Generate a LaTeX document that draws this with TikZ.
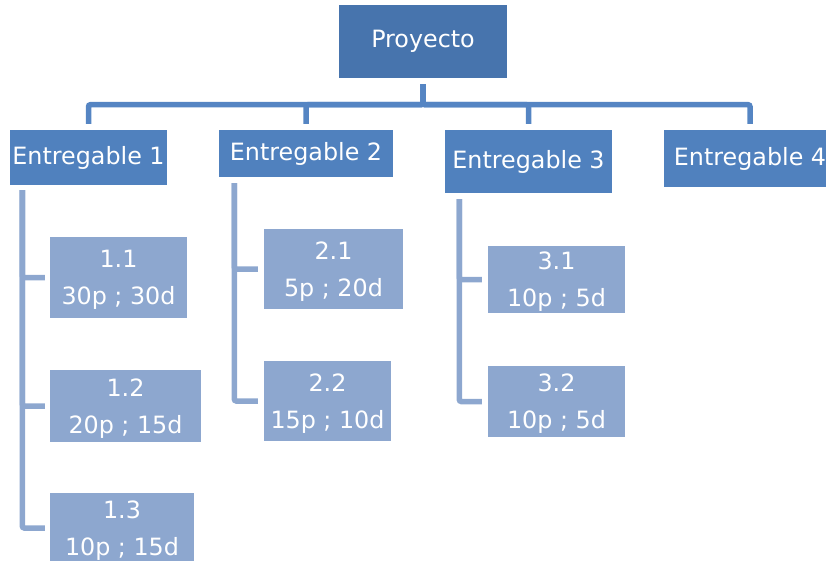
\documentclass[tikz,border=0pt]{standalone}
\usepackage{fontspec}
\setmainfont{DejaVu Sans}
\usetikzlibrary{calc}
\definecolor{projblue}{HTML}{4774AD}
\definecolor{entblue}{HTML}{5081BE}
\definecolor{taskblue}{HTML}{8DA7CF}
\definecolor{barblue}{HTML}{5585C3}
\tikzset{
	box/.style={inner sep=0pt, text=white, align=center, font=\fontsize{23.8}{37}\selectfont},
	projbox/.style={box, fill=projblue},
	entbox/.style={box, fill=entblue},
	taskbox/.style={box, fill=taskblue, text depth=0pt},
	topline/.style={draw=barblue, line width=5.5pt, rounded corners=2pt},
	subline/.style={draw=taskblue, line width=5.5pt, rounded corners=2pt}
}
\begin{document}
\begin{tikzpicture}[x=1pt, y=-1pt]
	\useasboundingbox (0,0) rectangle (826,560);
	\clip (0,0) rectangle (826,560);
	% top level
	\node[projbox, minimum width=168pt, minimum height=73pt] (proj) at (423,41.5) {Proyecto};
	\node[entbox, minimum width=157pt, minimum height=55pt] (ent1) at (88.5,157.5) {Entregable 1};
	\node[entbox, minimum width=174pt, minimum height=47pt] (ent2) at (306,153.5) {Entregable 2};
	\node[entbox, minimum width=167pt, minimum height=63pt] (ent3) at (528.5,161.5) {Entregable 3};
	\node[entbox, minimum width=172pt, minimum height=57pt] (ent4) at (750,158.5) {Entregable 4};
	% work packages
	\node[taskbox, minimum width=137pt, minimum height=81pt] (t11) at (118.5,277.5) {1.1\\30p ; 30d};
	\node[taskbox, minimum width=151pt, minimum height=72pt] (t12) at (125.5,406) {1.2\\20p ; 15d};
	\node[taskbox, minimum width=144pt, minimum height=70pt] (t13) at (122,528) {1.3\\10p ; 15d};
	\node[taskbox, minimum width=139pt, minimum height=80pt] (t21) at (333.5,269) {2.1\\5p ; 20d};
	\node[taskbox, minimum width=127pt, minimum height=80pt] (t22) at (327.5,401) {2.2\\15p ; 10d};
	\node[taskbox, minimum width=137pt, minimum height=67pt] (t31) at (556.5,279.5) {3.1\\10p ; 5d};
	\node[taskbox, minimum width=137pt, minimum height=71pt] (t32) at (556.5,401.5) {3.2\\10p ; 5d};
	% connectors
	\foreach \e in {ent1,ent2,ent3,ent4}
		\draw[topline] ([yshift=-6pt]proj.south) -- ++(0,20.5) -| ([yshift=6pt]\e.north);
	\foreach \t in {t11,t12,t13}
		\draw[subline] ([xshift=12.5pt,yshift=-5pt]ent1.south west) |- ([xshift=-5pt]\t.west);
	\foreach \t in {t21,t22}
		\draw[subline] ([xshift=15.5pt,yshift=-6pt]ent2.south west) |- ([xshift=-6pt]\t.west);
	\foreach \t in {t31,t32}
		\draw[subline] ([xshift=14.5pt,yshift=-6pt]ent3.south west) |- ([xshift=-6pt]\t.west);
\end{tikzpicture}
\end{document}
